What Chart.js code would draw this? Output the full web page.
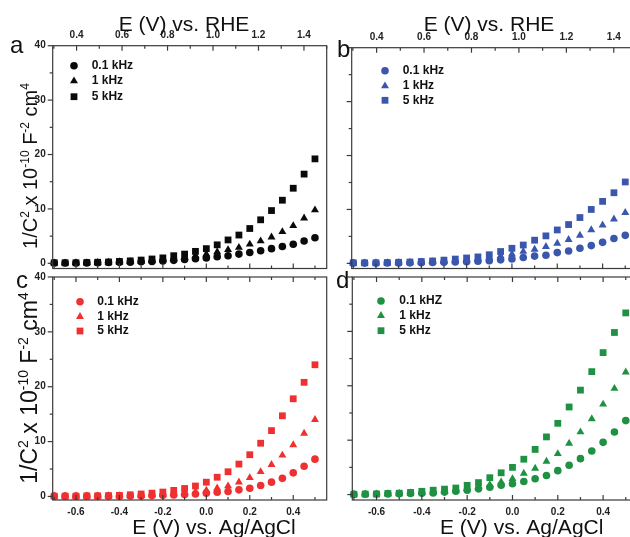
<!DOCTYPE html>
<html>
<head>
<meta charset="utf-8">
<script src="https://cdn.jsdelivr.net/npm/chart.js@4.4.1/dist/chart.umd.min.js"></script>
<style>
  html, body { margin: 0; padding: 0; background: #fff; width: 630px; height: 537px; overflow: hidden; }
  canvas { position: absolute; left: 0; top: 0; }
</style>
</head>
<body>
<canvas id="pa"></canvas>
<canvas id="pb"></canvas>
<canvas id="pc"></canvas>
<canvas id="pd"></canvas>
<script>
// potential vs Ag/AgCl (V)
const xAgCl = [-0.70, -0.65, -0.60, -0.55, -0.50, -0.45, -0.40, -0.35, -0.30, -0.25, -0.20, -0.15, -0.10,
  -0.05, 0.00, 0.05, 0.10, 0.15, 0.20, 0.25, 0.30, 0.35, 0.40, 0.45, 0.50];

const freqNames = ["0.1 kHz", "1 kHz", "5 kHz"];
const freqNamesD = ["0.1 kHZ", "1 kHz", "5 kHz"];

// panel a (black)
const a01k = [0.05, 0.05, 0.06, 0.08, 0.1, 0.14, 0.18, 0.22, 0.28, 0.35, 0.45, 0.55, 0.7, 0.85, 1.0, 1.2, 1.4, 1.7, 2.0, 2.3, 2.7, 3.1, 3.5, 4.1, 4.7];
const a1k = [0.05, 0.05, 0.1, 0.1, 0.15, 0.2, 0.25, 0.3, 0.4, 0.5, 0.65, 0.85, 1.1, 1.4, 1.7, 2.1, 2.5, 2.9, 3.5, 4.1, 4.8, 5.8, 6.9, 8.3, 9.8];
const a5k = [0.1, 0.1, 0.1, 0.15, 0.2, 0.25, 0.35, 0.45, 0.6, 0.8, 1.0, 1.4, 1.7, 2.2, 2.7, 3.4, 4.3, 5.2, 6.4, 8.0, 9.7, 11.6, 13.8, 16.4, 19.2];
// panel b (blue)
const b01k = [0.05, 0.05, 0.05, 0.06, 0.08, 0.1, 0.12, 0.15, 0.2, 0.25, 0.3, 0.4, 0.5, 0.65, 0.8, 1.1, 1.35, 1.5, 2.0, 2.3, 2.8, 3.3, 3.9, 4.6, 5.2];
const b1k = [0.05, 0.05, 0.1, 0.1, 0.15, 0.2, 0.25, 0.3, 0.4, 0.5, 0.65, 0.85, 1.1, 1.4, 1.7, 2.2, 2.6, 3.1, 3.7, 4.4, 5.2, 6.2, 7.1, 8.2, 9.4];
const b5k = [0.1, 0.1, 0.1, 0.15, 0.2, 0.25, 0.35, 0.45, 0.6, 0.8, 1.0, 1.2, 1.6, 2.2, 2.8, 3.4, 4.3, 5.1, 6.2, 7.2, 8.5, 10.0, 11.5, 13.1, 15.1];
// panel c (red)
const c01k = [0.05, 0.05, 0.05, 0.05, 0.05, 0.05, 0.05, 0.1, 0.1, 0.15, 0.2, 0.25, 0.35, 0.45, 0.6, 0.75, 0.9, 1.2, 1.5, 2.0, 2.6, 3.3, 4.3, 5.5, 6.8];
const c1k = [0.05, 0.05, 0.05, 0.05, 0.05, 0.1, 0.1, 0.15, 0.2, 0.25, 0.35, 0.5, 0.65, 0.85, 1.1, 1.5, 1.9, 2.6, 3.4, 4.5, 5.8, 7.5, 9.4, 11.5, 14.0];
const c5k = [0.05, 0.05, 0.05, 0.1, 0.1, 0.15, 0.2, 0.3, 0.45, 0.6, 0.8, 1.1, 1.45, 1.9, 2.6, 3.5, 4.5, 5.9, 7.6, 9.7, 12.0, 14.7, 17.8, 20.8, 24.0];
// panel d (green)
const d01k = [0.05, 0.05, 0.1, 0.1, 0.15, 0.2, 0.25, 0.3, 0.45, 0.6, 0.8, 1.05, 1.35, 1.7, 2.0, 2.4, 2.9, 3.5, 4.4, 5.4, 6.6, 8.0, 9.6, 11.5, 13.6];
const d1k = [0.05, 0.1, 0.1, 0.15, 0.2, 0.25, 0.35, 0.45, 0.6, 0.8, 1.1, 1.4, 1.8, 2.3, 2.9, 3.9, 4.8, 6.1, 7.5, 9.4, 11.5, 13.9, 16.6, 19.5, 22.5];
const d5k = [0.05, 0.1, 0.1, 0.2, 0.25, 0.4, 0.6, 0.8, 1.0, 1.2, 1.7, 2.2, 3.1, 4.0, 5.0, 6.5, 8.3, 10.6, 13.1, 16.1, 19.2, 22.6, 26.1, 29.8, 33.4];

// ticks
const agclTicks = [-0.7, -0.6, -0.5, -0.4, -0.3, -0.2, -0.1, 0.0, 0.1, 0.2, 0.3, 0.4, 0.5];
const agclTickLabels = [-0.6, -0.4, -0.2, 0.0, 0.2, 0.4];
const rheTicks = [0.3, 0.4, 0.5, 0.6, 0.7, 0.8, 0.9, 1.0, 1.1, 1.2, 1.3, 1.4, 1.5];
const rheTickLabels = [0.4, 0.6, 0.8, 1.0, 1.2, 1.4];
const yTicks = [0, 5, 10, 15, 20, 25, 30, 35, 40];
const yTickLabels = [0, 10, 20, 30, 40];

const FAMILY = 'Arial, "Liberation Sans", sans-serif';
const W = 650, H = 537;
const shapes = ["circle", "triangle", "rect"];
const radii = [3.8, 4.6, 4.8];

const inList = (list, v) => list.some((t) => Math.abs(t - v) < 1e-6);

function marker(ctx, shape, r, x, y) {
  ctx.beginPath();
  if (shape === "circle") {
    ctx.arc(x, y, r, 0, Math.PI * 2);
  } else if (shape === "triangle") {
    for (let k = 0; k < 3; k++) {
      const a = k * 2 * Math.PI / 3;
      const px = x + Math.sin(a) * r, py = y - Math.cos(a) * r;
      k ? ctx.lineTo(px, py) : ctx.moveTo(px, py);
    }
    ctx.closePath();
  } else {
    const s = r * Math.SQRT1_2;
    ctx.rect(x - s, y - s, 2 * s, 2 * s);
  }
  ctx.fill();
}

function richText(ctx, parts, size, cx, cy, rotate) {
  const sup = Math.round(size * 0.6);
  ctx.save();
  ctx.translate(cx, cy);
  if (rotate) ctx.rotate(-Math.PI / 2);
  let total = 0;
  parts.forEach((p) => {
    ctx.font = (p[1] ? sup : size) + "px " + FAMILY;
    total += ctx.measureText(p[0]).width;
  });
  let x = -total / 2;
  const base = size * 0.36;
  ctx.textAlign = "left";
  ctx.textBaseline = "alphabetic";
  ctx.fillStyle = "#111";
  parts.forEach((p) => {
    ctx.font = (p[1] ? sup : size) + "px " + FAMILY;
    ctx.fillText(p[0], x, p[1] ? base - size * 0.42 : base);
    x += ctx.measureText(p[0]).width;
  });
  ctx.restore();
}

const yTitle = [["1/C", 0], ["2", 1], [" x 10", 0], ["-10", 1], [" F", 0], ["-2", 1], [" cm", 0], ["4", 1]];

function makePanel(id, o) {
  const canvas = document.getElementById(id);
  canvas.width = W;
  canvas.height = H;
  const yW = 40, topH = 30, botH = 30;
  const tickFont = { family: FAMILY, size: 10, weight: "bold" };

  const deco = {
    id: "deco" + id,
    afterDraw(chart) {
      const ctx = chart.ctx, a = chart.chartArea;
      const sx = chart.scales.x, sx2 = chart.scales.x2, sy = chart.scales.y;
      ctx.save();
      ctx.strokeStyle = "#3a3a3a";
      ctx.lineWidth = 1.2;
      ctx.strokeRect(a.left, a.top, a.right - a.left, a.bottom - a.top);
      const line = (x1, y1, x2, y2) => { ctx.beginPath(); ctx.moveTo(x1, y1); ctx.lineTo(x2, y2); ctx.stroke(); };
      agclTicks.forEach((v) => {
        const px = sx.getPixelForValue(v), L = inList(agclTickLabels, v) ? 5 : 3;
        line(px, a.bottom, px, a.bottom - L);
        if (!o.top) line(px, a.top, px, a.top + L);
      });
      if (o.top) {
        rheTicks.forEach((v) => {
          const px = sx2.getPixelForValue(v), L = inList(rheTickLabels, v) ? 5 : 3;
          line(px, a.top, px, a.top + L);
        });
      }
      yTicks.forEach((v) => {
        const py = sy.getPixelForValue(v), L = inList(yTickLabels, v) ? 5 : 3;
        line(a.left, py, a.left - L, py);
      });

      // legend
      ctx.font = "bold 12px " + FAMILY;
      ctx.textBaseline = "middle";
      ctx.textAlign = "left";
      o.names.forEach((n, i) => {
        ctx.fillStyle = o.color;
        marker(ctx, shapes[i], radii[i], o.legend.mx, o.legend.rows[i]);
        ctx.fillStyle = "#111";
        ctx.fillText(n, o.legend.tx, o.legend.rows[i]);
      });

      // panel letter
      ctx.font = "24px " + FAMILY;
      ctx.textBaseline = "alphabetic";
      ctx.fillStyle = "#111";
      ctx.fillText(o.letter[0], o.letter[1], o.letter[2]);

      // axis titles
      if (o.top) richText(ctx, [["E (V) vs. RHE", 0]], 21, o.xTitle[0], o.xTitle[1], false);
      else richText(ctx, [["E (V) vs. Ag/AgCl", 0]], 21, o.xTitle[0], o.xTitle[1], false);
      if (o.yTitle) richText(ctx, yTitle, o.yTitle[2], o.yTitle[0], o.yTitle[1], true);
      ctx.restore();
    }
  };

  new Chart(canvas, {
    type: "scatter",
    data: {
      datasets: o.series.map((s, i) => ({
        label: o.names[i],
        data: xAgCl.map((x, k) => ({ x: x, y: s[k] })),
        pointStyle: shapes[i],
        pointRadius: radii[i],
        pointBackgroundColor: o.color,
        pointBorderColor: o.color,
        pointBorderWidth: 0,
        clip: false
      }))
    },
    options: {
      responsive: false,
      animation: false,
      events: [],
      layout: { padding: { left: o.plot.l - yW, top: o.plot.t - topH, right: W - o.plot.r, bottom: H - o.plot.b - botH } },
      plugins: { legend: { display: false }, tooltip: { enabled: false } },
      scales: {
        x: {
          type: "linear", position: "bottom", min: -0.707, max: 0.554,
          afterFit: (s) => { s.height = botH; },
          afterBuildTicks: (s) => { s.ticks = agclTicks.map((v) => ({ value: v })); },
          grid: { display: false, drawTicks: false }, border: { display: false },
          ticks: { display: !o.top, padding: 6, autoSkip: false, maxRotation: 0, font: tickFont, color: "#222",
            callback: (v) => inList(agclTickLabels, v) ? v.toFixed(1) : "" }
        },
        x2: {
          type: "linear", position: "top", min: 0.295, max: 1.5,
          afterFit: (s) => { s.height = topH; },
          afterBuildTicks: (s) => { s.ticks = rheTicks.map((v) => ({ value: v })); },
          grid: { display: false, drawTicks: false }, border: { display: false },
          ticks: { display: o.top, padding: 4, autoSkip: false, maxRotation: 0, font: tickFont, color: "#222",
            callback: (v) => inList(rheTickLabels, v) ? v.toFixed(1) : "" }
        },
        y: {
          type: "linear", position: "left", min: o.yMin, max: 40,
          afterFit: (s) => { s.width = yW; },
          afterBuildTicks: (s) => { s.ticks = yTicks.map((v) => ({ value: v })); },
          grid: { display: false, drawTicks: false }, border: { display: false },
          ticks: { display: o.yLabels, padding: 7, autoSkip: false, font: tickFont, color: "#222",
            callback: (v) => inList(yTickLabels, v) ? String(v) : "" }
        }
      }
    },
    plugins: [deco]
  });
}

makePanel("pa", {
  series: [a01k, a1k, a5k], names: freqNames, color: "#0a0a0a", top: true, yLabels: true, yMin: -0.95,
  plot: { l: 52.7, t: 45.7, r: 326.7, b: 268.5 },
  legend: { mx: 74, tx: 91.7, rows: [65.7, 81, 96.7] },
  letter: ["a", 10, 53], xTitle: [184, 23], yTitle: [30, 166, 20]
});
makePanel("pb", {
  series: [b01k, b1k, b5k], names: freqNames, color: "#3a56ad", top: true, yLabels: false, yMin: -0.95,
  plot: { l: 351.7, t: 47.7, r: 637.5, b: 268.5 },
  legend: { mx: 385, tx: 402.7, rows: [70.7, 86, 100.3] },
  letter: ["b", 337, 57], xTitle: [489, 23]
});
makePanel("pc", {
  series: [c01k, c1k, c5k], names: freqNames, color: "#ee3130", top: false, yLabels: true, yMin: -0.65,
  plot: { l: 52.7, t: 277, r: 326.7, b: 500 },
  legend: { mx: 80, tx: 97.3, rows: [301.7, 316.7, 331] },
  letter: ["c", 16, 288], xTitle: [214, 526.5], yTitle: [29, 388, 23]
});
makePanel("pd", {
  series: [d01k, d1k, d5k], names: freqNamesD, color: "#1f9142", top: false, yLabels: false, yMin: -1.0,
  plot: { l: 352.3, t: 277, r: 638, b: 500 },
  legend: { mx: 381, tx: 399.3, rows: [301, 315.7, 330.7] },
  letter: ["d", 336, 288], xTitle: [521.7, 526.5]
});
</script>
</body>
</html>
